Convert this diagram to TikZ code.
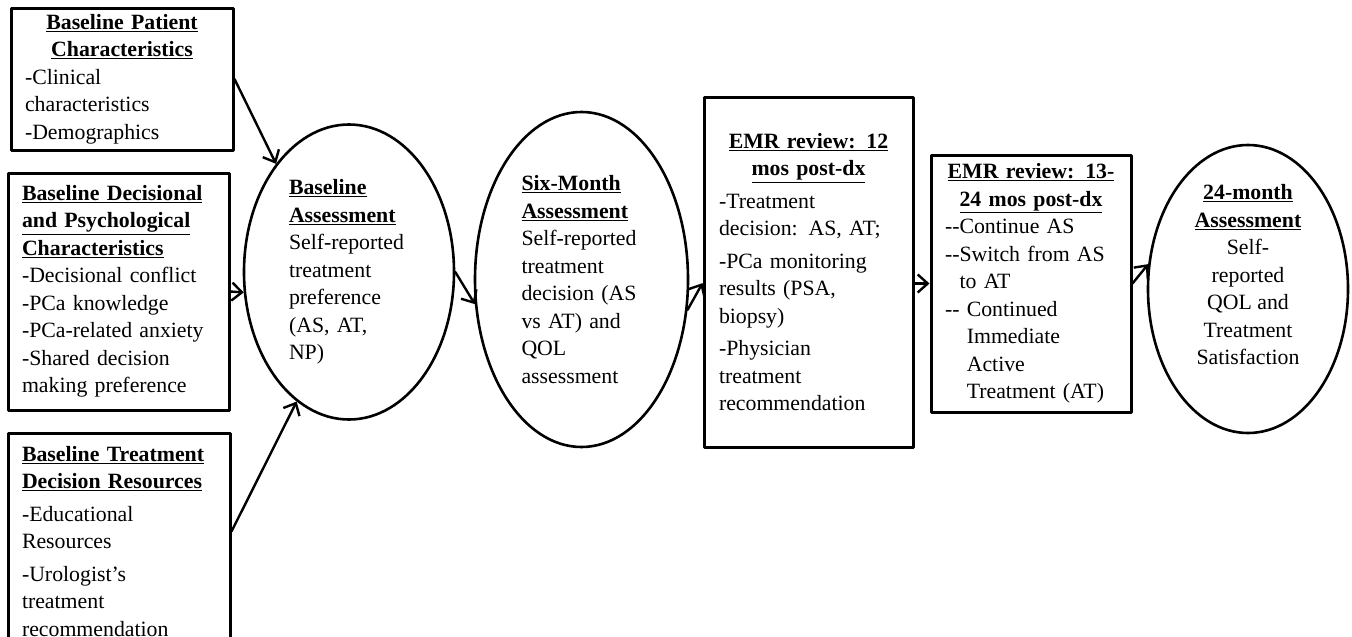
\documentclass[tikz,border=0pt]{standalone}
\usepackage{fontspec}
\setmainfont{Liberation Serif}
\usetikzlibrary{arrows.meta,shapes.geometric}
\newcommand{\uhead}[1]{\underline{\textbf{#1}}}
\tikzset{
  infobox/.style={draw, line width=3pt, rectangle, inner xsep=14pt, inner ysep=0pt, align=left},
  assess/.style={draw, line width=2.6pt, ellipse, inner sep=0pt, align=left},
  arr/.style={line width=2.4pt, -{Straight Barb[length=10pt,width=18pt]}},
}
\begin{document}
\begin{tikzpicture}[x=1pt, y=-1pt, font=\fontsize{21.8}{27.5}\selectfont, line join=round, line cap=round]
	\useasboundingbox (0,0) rectangle (1352,637);
	% baseline inputs
	\node[infobox, text width=194pt, minimum height=142pt] (patient) at (122,79)
		{{\centering\uhead{Baseline Patient}\\\uhead{Characteristics}\par}
		-Clinical\\characteristics\\-Demographics};
	\node[infobox, text width=193pt, minimum height=237pt] (decision) at (118.5,291.5)
		{\uhead{Baseline Decisional}\\\uhead{and Psychological}\\\uhead{Characteristics}\\
		-Decisional conflict\\-PCa knowledge\\-PCa-related anxiety\\-Shared decision\\making preference};
	\node[infobox, text width=194pt, minimum height=217pt] (resources) at (119,541.5)
		{\uhead{Baseline Treatment}\\\uhead{Decision Resources}\\[5pt]
		-Educational\\Resources\\[5pt]-Urologist’s\\treatment\\recommendation};
	% assessments and reviews
	\node[assess, text width=120pt, minimum width=210pt, minimum height=295pt] (base) at (349,272)
		{\uhead{Baseline}\\\uhead{Assessment}\\Self-reported\\treatment\\preference\\(AS, AT,\\NP)};
	\node[assess, text width=120pt, minimum width=213pt, minimum height=335pt] (six) at (581.5,279.5)
		{\uhead{Six-Month}\\\uhead{Assessment}\\Self-reported\\treatment\\decision (AS\\vs AT) and\\QOL\\assessment};
	\node[infobox, text width=179pt, inner xsep=15pt, minimum height=350pt] (emr12) at (808.5,272)
		{{\centering\uhead{EMR review: 12}\\\uhead{mos post-dx}\par}\vspace{5pt}
		-Treatment\\decision: AS, AT;\\[5pt]-PCa monitoring\\results (PSA,\\biopsy)\\[5pt]
		-Physician\\treatment\\recommendation};
	\node[infobox, text width=172pt, minimum height=257pt] (emr13) at (1031,283.5)
		{{\centering\uhead{EMR review: 13-}\\\uhead{24 mos post-dx}\par}
		-{}-Continue AS\\-{}-Switch from AS\\\phantom{-{}-}to AT\\-{}- Continued\\
		\phantom{-{}- }Immediate\\\phantom{-{}- }Active\\\phantom{-{}- }Treatment (AT)};
	\node[assess, minimum width=200pt, minimum height=288pt,
		label={[align=center, yshift=14pt]center:{\uhead{24-month}\\\uhead{Assessment}\\Self-\\reported\\QOL and\\Treatment\\Satisfaction}}]
		(month24) at (1248,289) {};
	% connectors
	\draw[arr] (patient.east) -- (base.124);
	\draw[arr] (decision.east) -- (base.191);
	\draw[arr] ([yshift=10pt]resources.east) -- (base.248);
	\draw[arr] (base.east) -- (six.193);
	\draw[arr] (six.344) -- (emr12.186);
	\draw[arr] (emr13.west -| emr12.east) -- (emr13.west);
	\draw[arr] (emr13.east) -- (month24.166);
\end{tikzpicture}
\end{document}
